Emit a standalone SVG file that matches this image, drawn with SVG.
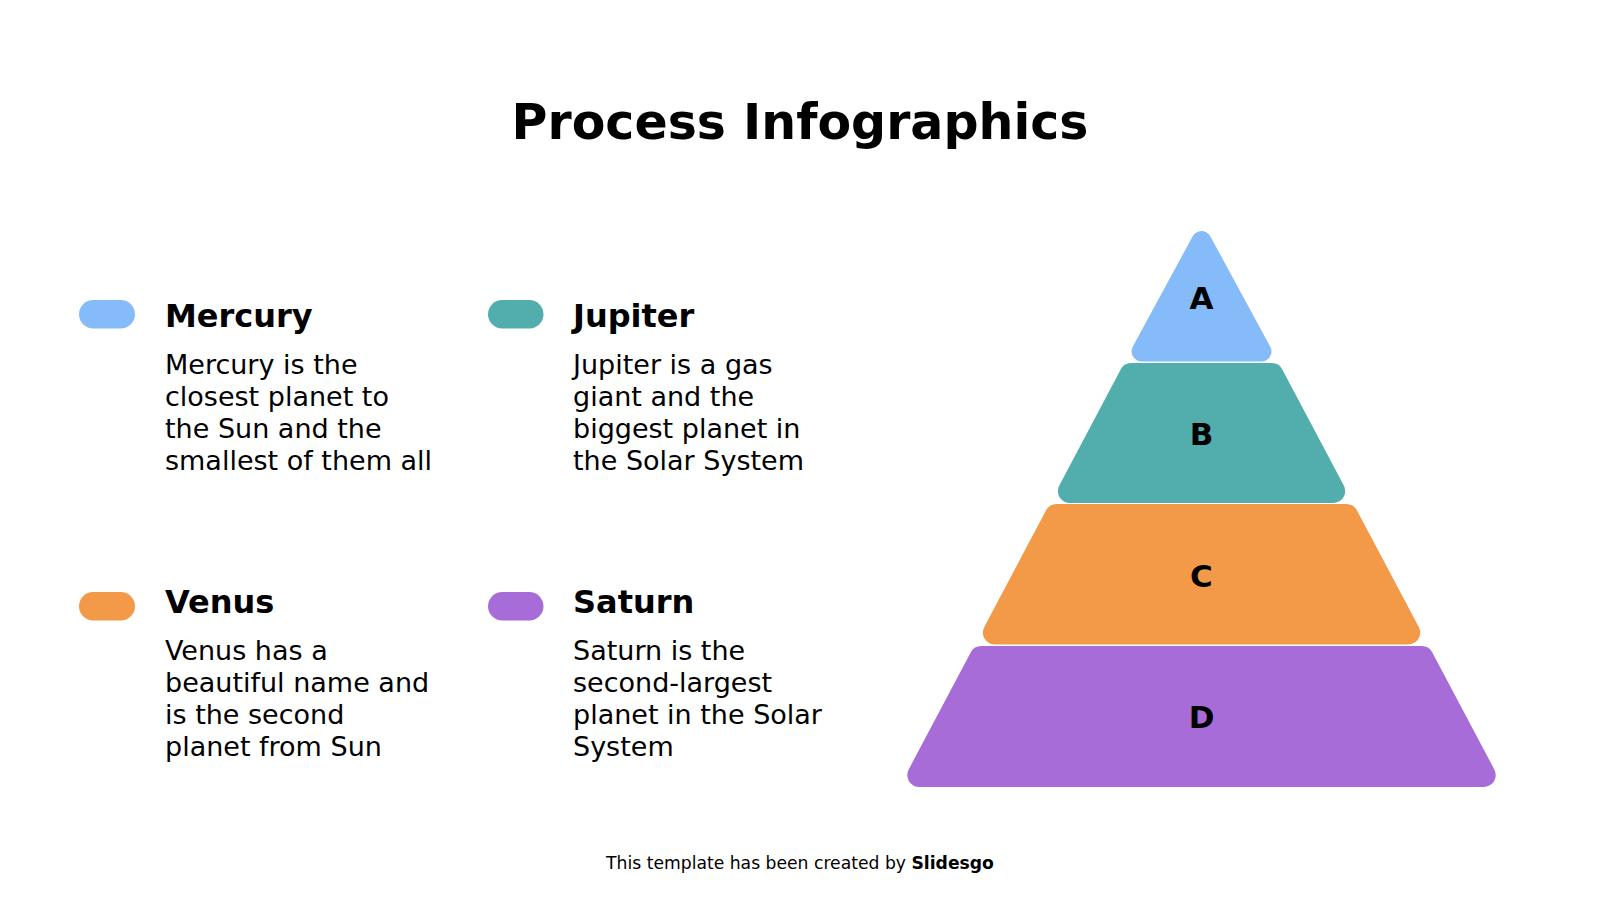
<svg xmlns="http://www.w3.org/2000/svg" width="1600" height="900" viewBox="0 0 1600 900">
  <style>
    .title { font-family: "DejaVu Sans", "Liberation Sans", sans-serif; font-weight: bold; font-size: 49px; fill: #000; }
    .head { font-family: "DejaVu Sans", "Liberation Sans", sans-serif; font-weight: bold; font-size: 32px; fill: #000; }
    .body { font-family: "DejaVu Sans", "Liberation Sans", sans-serif; font-size: 27px; fill: #000; }
    .lbl { font-family: "DejaVu Sans", "Liberation Sans", sans-serif; font-weight: bold; font-size: 31px; fill: #000; text-anchor: middle; }
    .foot { font-family: "DejaVu Sans", "Liberation Sans", sans-serif; font-size: 17.2px; fill: #000; text-anchor: middle; }
    .tier { stroke-width: 24; stroke-linejoin: round; }
    .apex { stroke-width: 20; stroke-linejoin: round; }
    .blue { fill: #86BBF9; stroke: #86BBF9; }
    .teal { fill: #52ADAD; stroke: #52ADAD; }
    .orange { fill: #F39A49; stroke: #F39A49; }
    .purple { fill: #A86CD8; stroke: #A86CD8; }
  </style>
  <rect width="1600" height="900" fill="#FFFFFF"/>

  <text id="title" class="title" x="800" y="139" text-anchor="middle">Process Infographics</text>

  <g id="mercury">
    <rect x="79" y="300" width="56" height="28.5" rx="14.25" fill="#86BBF9"/>
    <text class="head" x="165" y="327">Mercury</text>
    <text class="body" x="165" y="374">Mercury is the</text>
    <text class="body" x="165" y="406">closest planet to</text>
    <text class="body" x="165" y="438">the Sun and the</text>
    <text class="body" x="165" y="470">smallest of them all</text>
  </g>

  <g id="jupiter">
    <rect x="488" y="300" width="55.5" height="28.5" rx="14.25" fill="#52ADAD"/>
    <text class="head" x="573" y="327">Jupiter</text>
    <text class="body" x="573" y="374">Jupiter is a gas</text>
    <text class="body" x="573" y="406">giant and the</text>
    <text class="body" x="573" y="438">biggest planet in</text>
    <text class="body" x="573" y="470">the Solar System</text>
  </g>

  <g id="venus">
    <rect x="79" y="592" width="56" height="28.5" rx="14.25" fill="#F39A49"/>
    <text class="head" x="165" y="613">Venus</text>
    <text class="body" x="165" y="660">Venus has a</text>
    <text class="body" x="165" y="692">beautiful name and</text>
    <text class="body" x="165" y="724">is the second</text>
    <text class="body" x="165" y="756">planet from Sun</text>
  </g>

  <g id="saturn">
    <rect x="488" y="592" width="55.5" height="28.5" rx="14.25" fill="#A86CD8"/>
    <text class="head" x="573" y="613">Saturn</text>
    <text class="body" x="573" y="660">Saturn is the</text>
    <text class="body" x="573" y="692">second-largest</text>
    <text class="body" x="573" y="724">planet in the Solar</text>
    <text class="body" x="573" y="756">System</text>
  </g>

  <g id="tier-a">
    <polygon class="apex blue" points="1201.5,241 1261.5,351.5 1141.5,351.5"/>
    <text class="lbl" x="1201.5" y="309">A</text>
  </g>
  <g id="tier-b">
    <polygon class="tier teal" points="1131.3,375 1271.7,375 1333.2,491 1069.9,491"/>
    <text class="lbl" x="1201.5" y="445">B</text>
  </g>
  <g id="tier-c">
    <polygon class="tier orange" points="1056.6,516 1346.4,516 1408.2,632.5 994.9,632.5"/>
    <text class="lbl" x="1201.5" y="587">C</text>
  </g>
  <g id="tier-d">
    <polygon class="tier purple" points="981.3,658 1421.7,658 1483.7,775 919.3,775"/>
    <text class="lbl" x="1201.5" y="728">D</text>
  </g>

  <g id="connectors"/>

  <text id="footer" class="foot" x="800" y="869">This template has been created by <tspan font-weight="bold">Slidesgo</tspan></text>
</svg>
